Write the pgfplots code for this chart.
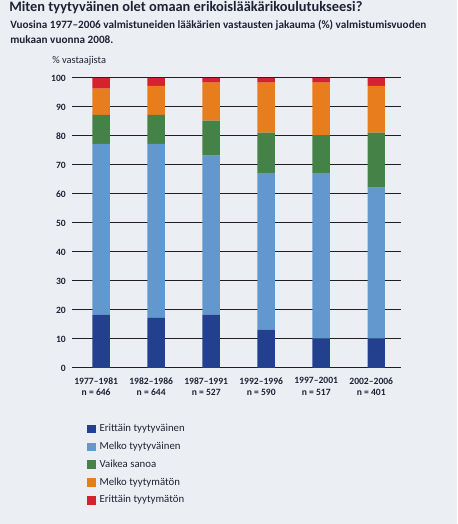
\documentclass[border=0pt]{standalone}
\usepackage{fontspec}
\setmainfont{Carlito}
\usepackage{pgfplots}
\pgfplotsset{compat=1.18}
\definecolor{bg}{HTML}{EBEFF3}
\definecolor{txt}{HTML}{1E2235}
\definecolor{c1}{HTML}{23408E}
\definecolor{c2}{HTML}{6398CE}
\definecolor{c3}{HTML}{458248}
\definecolor{c4}{HTML}{E87D1E}
\definecolor{c5}{HTML}{D5232D}
\begin{document}
\begin{tikzpicture}
\useasboundingbox (0,0) rectangle (342.75pt,393pt);
\fill[bg] (0,0) rectangle (342.75pt,393pt);
\node[anchor=base west, inner sep=0pt, font=\fontsize{10.8}{12}\selectfont\bfseries, text=txt] at (6.75pt,384.2pt) {Miten tyytyväinen olet omaan erikoislääkärikoulutukseesi?};
\node[anchor=base west, inner sep=0pt, font=\fontsize{8.4}{10}\selectfont\bfseries, text=txt] at (7.5pt,371.8pt) {Vuosina 1977–2006 valmistuneiden lääkärien vastausten jakauma (\%) valmistumisvuoden};
\node[anchor=base west, inner sep=0pt, font=\fontsize{8.4}{10}\selectfont\bfseries, text=txt] at (7.5pt,360.5pt) {mukaan vuonna 2008.};
\node[anchor=base west, inner sep=0pt, font=\fontsize{7.8}{8}\selectfont, text=txt] at (39pt,345.5pt) {\% vastaajista};
\begin{axis}[
  at={(54pt,117pt)}, anchor=south west,
  scale only axis, width=246.75pt, height=217.5pt,
  ybar stacked, bar width=13.1pt,
  xmin=-0.53, xmax=5.45, ymin=0, ymax=100,
  ytick={0,10,...,100},
  xtick={0,1,2,3,4,5},
  xticklabels={{1977–1981\\n = 646},{1982–1986\\n = 644},{1987–1991\\n = 527},{1992–1996\\n = 590},{1997–2001\\n = 517},{2002–2006\\n = 401}},
  /pgf/number format/assume math mode=true,
  axis line style={draw=none},
  major tick length=0pt,
  ymajorgrids,
  grid style={draw=black!88, line width=0.75pt},
  yticklabel style={font=\fontsize{7.2}{8}\selectfont\bfseries, text=txt, inner sep=0pt, xshift=-4.5pt},
  xticklabel style={font=\fontsize{7.2}{8.4}\selectfont\bfseries, text=txt, inner sep=0pt, align=center, yshift=-7pt, xshift=-3.75pt, anchor=north},
  legend image code/.code={\fill[#1] (0pt,-3.2pt) rectangle (6.4pt,3.2pt);},
  legend cell align=left,
  legend style={at={(axis description cs:0.045,-0.19)}, anchor=north west, draw=none, fill=none,
    font=\fontsize{8.1}{9}\selectfont, text=txt, row sep=5.1pt, inner sep=0pt,
    nodes={inner sep=0.5pt, text height=5.6pt, text depth=1.7pt},
    /tikz/every odd column/.append style={column sep=2.5pt}},
]
\addplot[fill=c1, draw=none] coordinates {(0,18.4) (1,17.3) (2,18.4) (3,13.2) (4,10.1) (5,10.1)};
\addplot[fill=c2, draw=none] coordinates {(0,58.9) (1,60.0) (2,54.8) (3,54.1) (4,57.2) (5,52.1)};
\addplot[fill=c3, draw=none] coordinates {(0,10.0) (1,10.0) (2,12.1) (3,13.9) (4,12.8) (5,19.0)};
\addplot[fill=c4, draw=none] coordinates {(0,9.0) (1,10.0) (2,13.1) (3,17.2) (4,18.3) (5,16.1)};
\addplot[fill=c5, draw=none] coordinates {(0,3.7) (1,2.7) (2,1.6) (3,1.6) (4,1.6) (5,2.7)};
\legend{Erittäin tyytyväinen, Melko tyytyväinen, Vaikea sanoa, Melko tyytymätön, Erittäin tyytymätön}
\end{axis}
\end{tikzpicture}
\end{document}
